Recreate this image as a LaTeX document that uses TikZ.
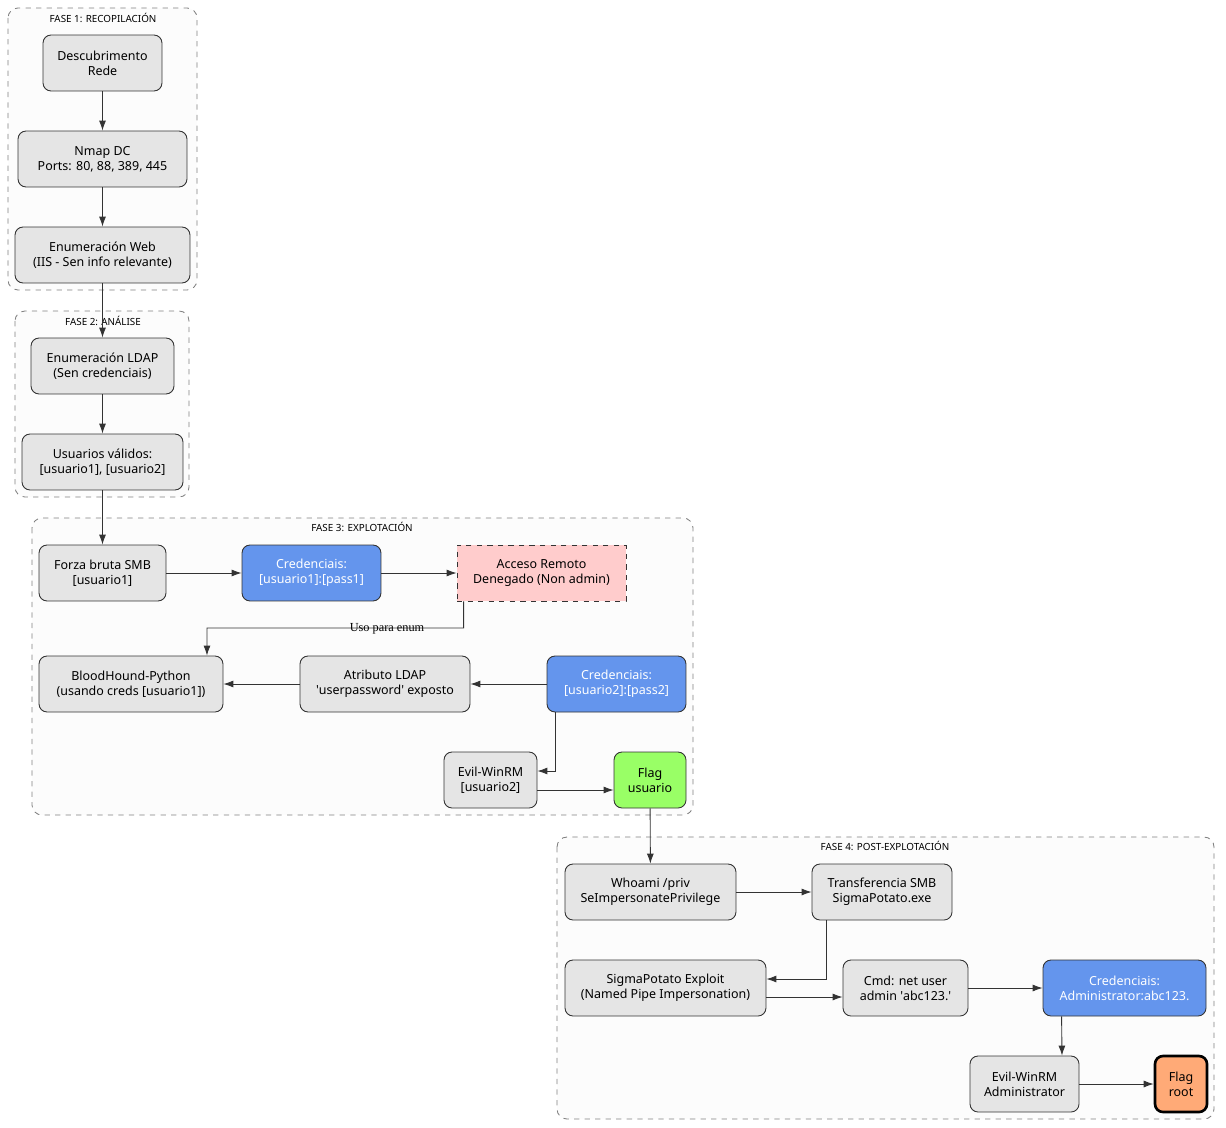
\documentclass[tikz,border=0pt]{standalone}
\usepackage{fontspec}
\setmainfont{Noto Sans}
\newfontfamily\labelfont{Liberation Serif}
\usetikzlibrary{arrows.meta}
\definecolor{boxgray}{HTML}{E5E5E5}
\definecolor{credblue}{HTML}{6495ED}
\definecolor{denypink}{HTML}{FFCCCC}
\definecolor{flaggreen}{HTML}{99FF66}
\definecolor{flagorange}{HTML}{FFAA77}
\definecolor{edgegray}{HTML}{333333}
\tikzset{
  stepbox/.style={draw=edgegray,line width=0.5pt,fill=boxgray,rounded corners=0.16cm,
    minimum height=1.12cm,align=center,inner sep=2pt,font=\fontsize{7.1}{8.6}\selectfont},
  cred/.style={stepbox,fill=credblue,text=white},
  deny/.style={stepbox,fill=denypink,rounded corners=0pt,dashed},
  flag/.style={stepbox,fill=flaggreen},
  phase/.style={draw=gray,dashed,fill=black!1,rounded corners=0.2cm,line width=0.5pt},
  phasetitle/.style={font=\fontsize{5.6}{7}\selectfont},
  link/.style={->,draw=edgegray,line width=0.5pt}
}
\begin{document}
\begin{tikzpicture}[x=0.02cm,y=-0.02cm,>={Latex[length=2mm,width=1.4mm]}]
\useasboundingbox (0,0) rectangle (1226,1128);
% phases
\draw[phase] (8,8) rectangle (197,290);
\node[phasetitle] (t1) at (103,18) {FASE 1: RECOPILACIÓN};
\draw[phase] (15,311) rectangle (189,497);
\node[phasetitle] (t2) at (103,321) {FASE 2: ANÁLISE};
\draw[phase] (32,518) rectangle (693,815);
\node[phasetitle] (t3) at (362,527) {FASE 3: EXPLOTACIÓN};
\draw[phase] (557,837) rectangle (1214,1119);
\node[phasetitle] (t4) at (885,846) {FASE 4: POST-EXPLOTACIÓN};
% fase 1
\node[stepbox,minimum width=2.38cm] (descub) at (102.5,63) {Descubrimento\\Rede};
\node[stepbox,minimum width=3.38cm] (nmap) at (102.5,159) {Nmap DC\\Ports: 80, 88, 389, 445};
\node[stepbox,minimum width=3.5cm] (web) at (102.5,255) {Enumeración Web\\(IIS - Sen info relevante)};
% fase 2
\node[stepbox,minimum width=2.86cm] (ldap) at (102.5,366) {Enumeración LDAP\\(Sen credenciais)};
\node[stepbox,minimum width=3.22cm] (users) at (102.5,462) {Usuarios válidos:\\{[usuario1], [usuario2]}};
% fase 3
\node[stepbox,minimum width=2.54cm] (brute) at (102.5,573) {Forza bruta SMB\\{[usuario1]}};
\node[cred,minimum width=2.78cm] (cred1) at (311.5,573) {Credenciais:\\{[usuario1]:[pass1]}};
\node[deny,minimum width=3.38cm] (deny) at (541.5,573) {Acceso Remoto\\Denegado (Non admin)};
\node[stepbox,minimum width=3.68cm] (blood) at (131,684) {BloodHound-Python\\(usando creds [usuario1])};
\node[stepbox,minimum width=3.4cm] (attr) at (385,684) {Atributo LDAP\\\textquotesingle userpassword\textquotesingle\ exposto};
\node[cred,minimum width=2.78cm] (cred2) at (616.5,684) {Credenciais:\\{[usuario2]:[pass2]}};
\node[stepbox,minimum width=1.86cm] (winrm1) at (490.5,780) {Evil-WinRM\\{[usuario2]}};
\node[flag,minimum width=1.44cm] (flag1) at (650,780) {Flag\\usuario};
% fase 4
\node[stepbox,minimum width=3.42cm] (whoami) at (650.5,892) {Whoami /priv\\SeImpersonatePrivilege};
\node[stepbox,minimum width=2.8cm] (transf) at (882,892) {Transferencia SMB\\SigmaPotato.exe};
\node[stepbox,minimum width=4.02cm] (sigma) at (665.5,988) {SigmaPotato Exploit\\(Named Pipe Impersonation)};
\node[stepbox,minimum width=2.5cm] (cmd) at (905.5,988) {Cmd: net user\\admin \textquotesingle abc123.\textquotesingle};
\node[cred,minimum width=3.26cm] (cred3) at (1124.5,988) {Credenciais:\\Administrator:abc123.};
\node[stepbox,minimum width=2.18cm] (winrm2) at (1024.5,1084) {Evil-WinRM\\Administrator};
\node[stepbox,fill=flagorange,line width=1.5pt,draw=black,minimum width=1.04cm] (flag2) at (1181,1084) {Flag\\root};
% connectors
\draw[link] (descub) -- (nmap);
\draw[link] (nmap) -- (web);
\draw[link] (web) -- (ldap);
\draw[link] (ldap) -- (users);
\draw[link] (users) -- (brute);
\draw[link] (brute) -- (cred1);
\draw[link] (cred1) -- (deny);
\draw[link] ([xshift=0.14cm]deny.south west) |- (207,628) -- ([xshift=1.52cm]blood.north);
\node[font=\labelfont\fontsize{7}{8}\selectfont] (uso) at (387,629) {Uso para enum};
\draw[link] (cred2) -- (attr);
\draw[link] (attr) -- (blood);
\draw[link] ([xshift=0.18cm]cred2.south west) |- ([yshift=0.18cm]winrm1.east);
\draw[link] ([yshift=-0.2cm]winrm1.east) -- ([yshift=-0.2cm]flag1.west);
\draw[link] (flag1) -- (whoami);
\draw[link] (whoami) -- (transf);
\draw[link] ([xshift=0.3cm]transf.south west) |- ([yshift=0.18cm]sigma.east);
\draw[link] ([yshift=-0.18cm]sigma.east) -- ([yshift=-0.18cm]cmd.west);
\draw[link] (cmd) -- (cred3);
\draw[link] ([xshift=0.38cm]cred3.south west) -- ([xshift=0.75cm]winrm2.north);
\draw[link] (winrm2) -- (flag2);
\end{tikzpicture}
\end{document}
